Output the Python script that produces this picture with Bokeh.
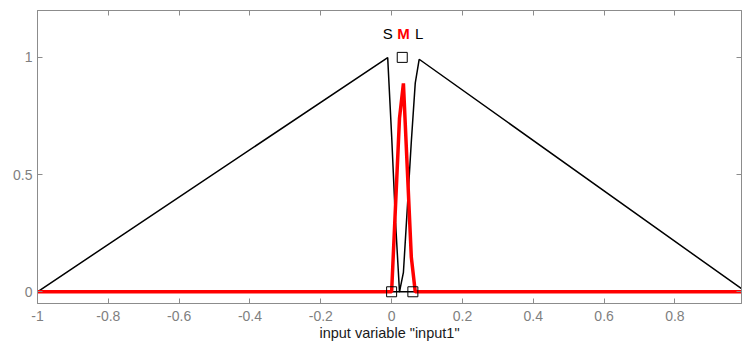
from bokeh.plotting import figure
from bokeh.models import Range1d, LinearAxis, FixedTicker
from bokeh.core.properties import value
from bokeh.embed import file_html
from bokeh.resources import INLINE

# Membership functions (vertices)
s_x = [-1.0, -0.0111, 0.0, 0.0111, 0.0222, 0.988]
s_y = [0.0, 0.999, 0.667, 0.296, 0.0, 0.0]

m_x = [-1.0, 0.0, 0.0111, 0.0222, 0.0333, 0.0444, 0.0556, 0.0667, 0.988]
m_y = [0.0, 0.0, 0.37, 0.74, 0.889, 0.52, 0.148, 0.0, 0.0]

l_x = [-1.0, 0.0222, 0.0333, 0.0444, 0.0556, 0.0667, 0.0778, 0.988]
l_y = [0.0, 0.0, 0.083, 0.36, 0.64, 0.89, 0.992, 0.013]

# parameter markers of selected MF "M"
sq_x = [0.0, 0.03, 0.06]
sq_y = [0.0, 1.0, 0.0]

mf_names = ["S", "M", "L"]
label_x = [-0.0111, 0.0333, 0.0778]
label_y = [1.10, 1.10, 1.10]
label_colors = ["black", "red", "black"]
label_styles = ["normal", "bold", "normal"]

x_ticks = [-1, -0.8, -0.6, -0.4, -0.2, 0, 0.2, 0.4, 0.6, 0.8]
x_tick_labels = ["-1", "-0.8", "-0.6", "-0.4", "-0.2", "0", "0.2", "0.4", "0.6", "0.8"]
y_ticks = [0, 0.5, 1]
y_tick_labels = ["0", "0.5", "1"]

xlabel = 'input variable "input1"'

FRAME = "#8c8c8c"
TICKLBL = "#7f7f7f"

p = figure(frame_width=704, frame_height=293, output_backend="svg", toolbar_location=None,
           x_range=Range1d(-1.0, 0.988), y_range=Range1d(-0.05, 1.2),
           x_axis_location=None, y_axis_location=None,
           min_border_left=37, min_border_right=1, min_border_top=10, min_border_bottom=41)
p.grid.visible = False
p.outline_line_color = FRAME
p.outline_line_width = 1
p.background_fill_color = "white"
p.border_fill_color = "white"

def style(ax):
    ax.axis_line_color = FRAME
    ax.major_tick_line_color = FRAME
    ax.major_tick_in = 5
    ax.major_tick_out = 0
    ax.minor_tick_line_color = None
    ax.major_label_text_color = TICKLBL
    ax.major_label_text_font = "Liberation Sans"
    ax.major_label_text_font_size = "14px"

xb = LinearAxis(ticker=FixedTicker(ticks=x_ticks),
                major_label_overrides={t: l for t, l in zip(x_ticks, x_tick_labels)})
style(xb)
xb.major_label_standoff = 7
xb.axis_label = xlabel
xb.axis_label_text_font = "Liberation Sans"
xb.axis_label_text_font_size = "14.5px"
xb.axis_label_text_font_style = "normal"
xb.axis_label_text_color = "#1a1a1a"
xb.axis_label_standoff = 1
p.add_layout(xb, "below")

yl = LinearAxis(ticker=FixedTicker(ticks=y_ticks),
                major_label_overrides={t: l for t, l in zip(y_ticks, y_tick_labels)})
style(yl)
yl.major_label_standoff = 5
p.add_layout(yl, "left")

xt = LinearAxis(ticker=FixedTicker(ticks=x_ticks),
                major_label_overrides={t: "" for t in x_ticks})
style(xt)
xt.major_label_standoff = 0
p.add_layout(xt, "above")

yr = LinearAxis(ticker=FixedTicker(ticks=y_ticks),
                major_label_overrides={t: "" for t in y_ticks})
style(yr)
yr.major_label_standoff = 0
p.add_layout(yr, "right")

p.line(s_x, s_y, line_color="black", line_width=1.5)
p.line(l_x, l_y, line_color="black", line_width=1.5)
p.line(m_x, m_y, line_color="#ff0000", line_width=3.5)

p.scatter(sq_x, sq_y, marker="square", size=10, fill_color=None,
          line_color="black", line_width=1)

p.text(x=label_x, y=label_y, text=mf_names, text_color=label_colors,
       text_font_style=label_styles,
       text_align="center", text_baseline="alphabetic",
       text_font=value("Liberation Sans"), text_font_size="15px")

open("out.html", "w").write(file_html(p, INLINE))
